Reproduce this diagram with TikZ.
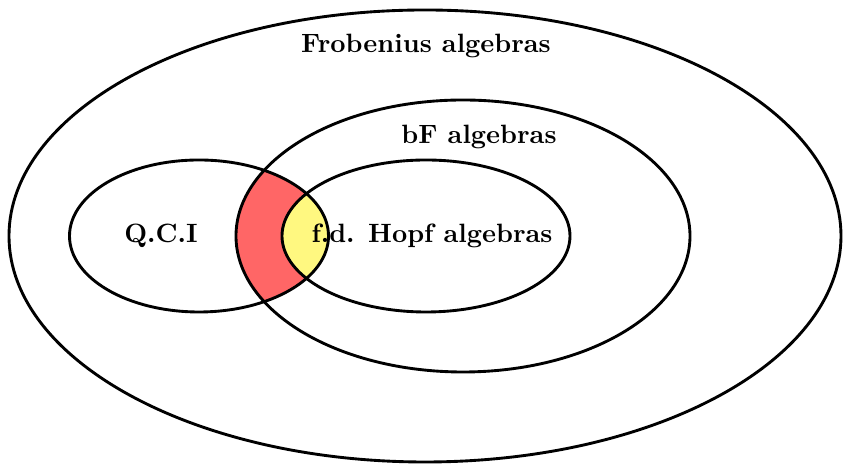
\documentclass[tikz,border=0pt]{standalone}
\begin{document}
\begin{tikzpicture}[x=0.4pt,y=-0.4pt,
  lbl/.style={font=\fontsize{10.6}{12}\selectfont\bfseries, inner sep=0pt},
  ring/.style={draw=black, line width=1.15pt}]
\useasboundingbox (0,0) rectangle (843,464);
\def\outerE{(425,236) ellipse [x radius=166.4pt, y radius=90.4pt]}
\def\bfE{(463,236) ellipse [x radius=90.8pt, y radius=54.4pt]}
\def\qciE{(199,236) ellipse [x radius=51.8pt, y radius=30.4pt]}
\def\hopfE{(426,236) ellipse [x radius=57.6pt, y radius=30.4pt]}
% red: QCI intersect bF
\begin{scope}
  \clip \qciE;
  \fill[red!60] \bfE;
\end{scope}
% yellow: QCI intersect Hopf
\begin{scope}
  \clip \qciE;
  \fill[yellow!50] \hopfE;
\end{scope}
\draw[ring] \outerE;
\draw[ring] \bfE;
\draw[ring] \qciE;
\draw[ring] \hopfE;
\node[lbl] (frob) at (426,46) {Frobenius algebras};
\node[lbl] (bf) at (479,137) {bF algebras};
\node[lbl] (qci) at (161,236) {Q.C.I};
\node[lbl] (hopf) at (432,236) {f.d. Hopf algebras};
\end{tikzpicture}
\end{document}
